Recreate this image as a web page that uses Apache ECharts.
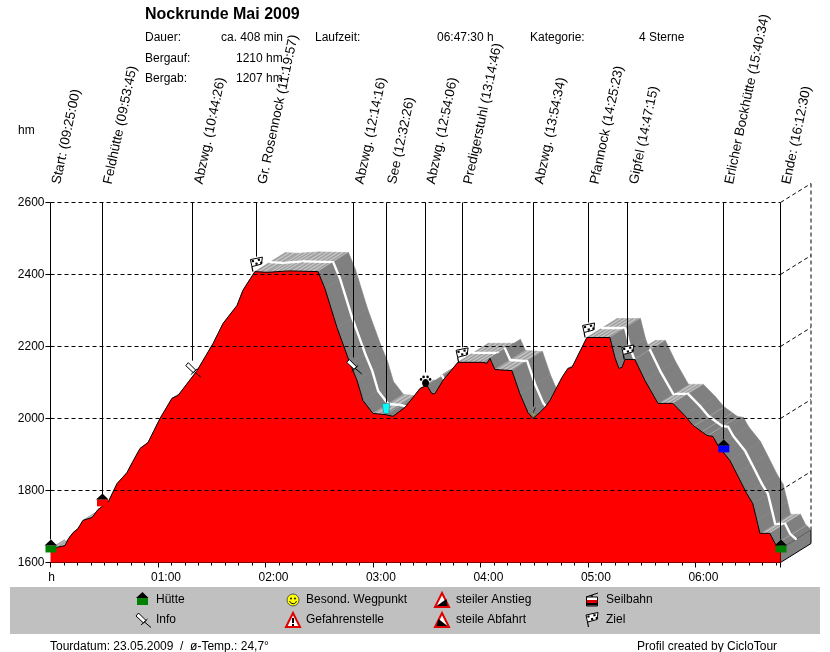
<!DOCTYPE html>
<html><head><meta charset="utf-8">
<style>html,body{margin:0;padding:0;background:#fff}#c{width:830px;height:652px}</style>
<script src="https://cdn.jsdelivr.net/npm/echarts@6/dist/echarts.min.js"></script>
</head><body><div id="c"></div>
<script>
const chartTitle = 'Nockrunde Mai 2009';
const profileMinutes = [0,3.6,8.1,9.8,12.6,15.3,18.1,23.2,26.5,32.1,37.1,42.7,46,50,54.4,61.1,67.8,71.2,81.8,90.7,96.3,104.1,107.4,114.1,121,133,149.3,153.2,159.9,167.2,171.1,174.4,180,186.7,191.2,197.9,202.3,206.2,210.1,212.9,214.6,219.1,227.4,241.4,243.6,245.3,248.1,257.6,262,266.5,269.3,273.2,276,278.8,285.5,288.8,291.1,299.4,312.3,315.1,317.3,319,320.7,326.2,331.8,339.1,347.4,354.1,358.6,366.4,369.8,372.6,379.3,383,388.6,392,394.3,396,401.6,404.4,407.5];
const profileElev = [1639,1642,1647,1664,1683,1694,1717,1725,1747,1767,1819,1850,1881,1917,1933,2000,2056,2064,2133,2208,2264,2314,2356,2408,2406,2410,2408,2361,2253,2153,2106,2050,2014,2011,2006,2031,2058,2083,2092,2069,2069,2106,2156,2156,2153,2167,2136,2133,2069,2017,2000,2017,2031,2050,2114,2139,2142,2225,2225,2169,2139,2142,2164,2164,2106,2042,2042,2008,1981,1953,1950,1925,1883,1847,1792,1764,1717,1681,1681,1653,1639];
const wpMinutes = [0,28.75,79.43,114.95,169.27,187.43,209.1,229.77,269.57,300.38,322.25,375.57,407.5];
const wpElev = [1639,1767,2119,2408,2128,2011,2092,2156,2000,2225,2164,1917,1639];
const wpNames = ['Start: (09:25:00)','Feldhütte (09:53:45)','Abzwg. (10:44:26)','Gr. Rosennock (11:19:57)','Abzwg. (12:14:16)','See (12:32:26)','Abzwg. (12:54:06)','Predigerstuhl (13:14:46)','Abzwg. (13:54:34)','Pfannock (14:25:23)','Gipfel (14:47:15)','Erlicher Bockhütte (15:40:34)','Ende: (16:12:30)'];
const wpIcons = ['hutG','hutR','pin','flag','pin','cup','paw','flag','star','flag','flag','hutB','hutG'];
const gridLevels = [2600,2400,2200,2000,1800];

const FONT = '"Liberation Sans", Arial, sans-serif';
const DX = 30.5, DY = -19;
const leaderGap = {hutG:9,hutR:7,hutB:9,flag:15,pin:15,cup:12,paw:13,star:12};

function poly(points, fill, stroke, lw){
  return {type:'polygon',shape:{points},style:{fill,stroke:stroke||null,lineWidth:lw||0}};
}
function line(x1,y1,x2,y2,stroke,lw,dash){
  return {type:'line',shape:{x1,y1,x2,y2},style:{stroke,lineWidth:lw||1,lineDash:dash||null,fill:null}};
}
function circ(cx,cy,r,fill,stroke,lw){
  return {type:'circle',shape:{cx,cy,r},style:{fill,stroke:stroke||null,lineWidth:lw||0}};
}
function rect(x,y,width,height,fill,stroke,lw){
  return {type:'rect',shape:{x,y,width,height},style:{fill,stroke:stroke||null,lineWidth:lw||0}};
}
function hut(c){
  return [rect(-5,-3,11,7,c), poly([[-6,-3],[0.5,-9],[6.5,-3]],'#000')];
}
function icon(kind){
  if(kind==='hutG') return hut('#008000');
  if(kind==='hutR') return hut('#ff0000');
  if(kind==='hutB') return hut('#0000ff');
  if(kind==='flag'){
    const a=[-6,-12],b=[6,-14.5],c=[5,-7.5],d=[-4.5,-5];
    const pt=(u,v)=>[a[0]+(b[0]-a[0])*u+(d[0]-a[0])*v, a[1]+(b[1]-a[1])*u+(d[1]-a[1])*v];
    const kids=[line(-4.5,-5,-3.5,0,'#000',1.2), poly([a,b,c,d],'#fff','#000',1)];
    [[.08,.12],[.58,.12],[.33,.58],[.72,.58]].forEach(q=>{
      kids.push(poly([pt(q[0],q[1]),pt(q[0]+.18,q[1]),pt(q[0]+.18,q[1]+.3),pt(q[0],q[1]+.3)],'#000'));
    });
    return kids;
  }
  if(kind==='pin') return [
    poly([[-7,-10],[-4.5,-13],[3,-5.5],[0.5,-3]],'#fff','#000',1),
    line(-2,-1,4.5,-7,'#000',1), line(1.5,-4,8,1.5,'#000',1)];
  if(kind==='cup') return [poly([[-4,-11],[3.5,-11],[2.5,-1],[-2.5,-1]],'#00ffff','#555',.5)];
  if(kind==='paw') return [
    {type:'ellipse',shape:{cx:0.5,cy:-2.5,rx:3.5,ry:4},style:{fill:'#000'}},
    circ(-4,-6,1.3,'#000'),circ(-1.5,-8.5,1.3,'#000'),circ(2.5,-8.5,1.3,'#000'),circ(5,-6,1.3,'#000')];
  if(kind==='star') return [
    line(2,-11,-1,-4,'#222',1),
    poly([[-3.5,-4],[3,-5],[-1,-2],[0,-6.5]],'#e8e860','#555',.5)];
  if(kind==='smile') return [
    circ(0,0,6,'#ffff00','#555',1),circ(-2,-1.5,.9,'#000'),circ(2,-1.5,.9,'#000'),
    {type:'arc',shape:{cx:0,cy:0,r:3.6,startAngle:.3,endAngle:Math.PI-.3},style:{stroke:'#000',lineWidth:1,fill:null}}];
  if(kind==='danger') return [
    poly([[0,-7],[7,7],[-7,7]],'#fff','#e00000',2), rect(-1,-2,2,5,'#000'), rect(-1,4,2,2,'#000')];
  if(kind==='up') return [
    poly([[0,-7],[7,7],[-7,7]],'#fff','#e00000',2), poly([[-5.5,6],[4.5,-1],[5.5,6]],'#000')];
  if(kind==='down') return [
    poly([[0,-7],[7,7],[-7,7]],'#fff','#e00000',2), poly([[5.5,6],[-3.5,-1],[-5.5,6]],'#000')];
  if(kind==='gondola') return [
    line(-6,-3,6,-7,'#000',1), line(0,-5,0,-3,'#000',1.5),
    rect(-5.5,-3,11,9,'#fff','#000',1), rect(-5,0,10,3,'#e00000'), rect(-5,3,10,2.5,'#000')];
  return [];
}

const segments = [];
for(let i=0;i<profileMinutes.length-1;i++){
  segments.push([profileMinutes[i],profileElev[i],profileMinutes[i+1],profileElev[i+1]]);
}
// ascending faces are painted first, descending faces in front of them
segments.sort((a,b)=>(b[1]<=b[3]?1:0)-(a[1]<=a[3]?1:0));

function renderRibbon(params, api){
  const p0=api.coord([api.value(0),api.value(1)]), p1=api.coord([api.value(2),api.value(3)]);
  const slope=(p1[1]-p0[1])/Math.max(.01,p1[0]-p0[0]);
  const light=slope<.15, gentle=!light&&slope<.95;
  const base=light?'#b2b2b2':'#808080';
  const kids=[poly([p0,p1,[p1[0]+DX,p1[1]+DY],[p0[0]+DX,p0[1]+DY]],base,base,.6)];
  if(light||gentle){
    const step=light?2.5:8; let k=0;
    for(let x=p0[0]+1;x<p1[0];x+=step,k++){
      const t=(x-p0[0])/(p1[0]-p0[0]), y=p0[1]+(p1[1]-p0[1])*t;
      const col=light?(k%2?'#c8c8c8':'#9a9a9a'):'#b4b4b4';
      kids.push(line(x,y,x+DX,y+DY,col,light?1:.6));
    }
  }
  const w=line(p0[0]+DX/2,p0[1]+DY/2,p1[0]+DX/2,p1[1]+DY/2,'#fff',2.4);
  w.style.lineCap='round';
  kids.push(w);
  return {type:'group',children:kids};
}
function renderGrid(params, api){
  const p=api.coord([0,api.value(0)]), q=api.coord([407.5,api.value(0)]);
  return {type:'group',children:[
    line(p[0],p[1],q[0],q[1],'#000',1,[4,3]),
    line(q[0],q[1],q[0]+DX,q[1]+DY,'#000',1,[4,3])]};
}
function renderBack(params, api){
  const a=api.coord([407.5,2600]), b=api.coord([407.5,1600]);
  const e=api.coord([407.5,profileElev[profileElev.length-1]]);
  return {type:'group',children:[
    line(a[0]+DX,a[1]+DY,a[0]+DX,e[1]+DY,'#000',1,[4,3]),
    poly([e,[e[0]+DX,e[1]+DY],[b[0]+DX,b[1]+DY],b],'#808080','#000',1)]};
}
function renderWaypoint(params, api){
  const t=api.value(0), e=api.value(1), i=params.dataIndex, kind=wpIcons[i];
  const p=api.coord([t,e]), top=api.coord([t,2600]);
  const x=Math.floor(p[0])+.5;
  return {type:'group',children:[
    line(x,top[1],x,p[1]-leaderGap[kind],'#000',1),
    {type:'group',x:p[0],y:p[1],children:icon(kind)},
    {type:'text',x:p[0]+6,y:184,rotation:78*Math.PI/180,originX:0,originY:0,
     style:{text:wpNames[i],font:'13.4px '+FONT,fill:'#000',align:'left',verticalAlign:'middle'}}
  ]};
}
function txt(text,x,y){
  return {type:'text',x,y,z:20,style:{text,font:'12px '+FONT,fill:'#000',verticalAlign:'middle'}};
}
function legendIcon(kind,x,y){
  return {type:'group',x,y,children:icon(kind).map(c=>Object.assign(c,{z:21}))};
}
const statTexts = [
  ['Dauer:',145,38],['ca. 408 min',221,38],['Laufzeit:',315,38],['06:47:30 h',437,38],['Kategorie:',530,38],['4 Sterne',639,38],
  ['Bergauf:',145,59],['1210 hm',236,59],['Bergab:',145,79],['1207 hm',236,79],
  ['hm',18,131],['Tourdatum: 23.05.2009  /  ø-Temp.: 24,7°',50,647],['Profil created by CicloTour',637,647]
];
const legendRows = [
  ['hutG','Hütte',142,156,601,600],['pin','Info',143,156,626,620],
  ['smile','Besond. Wegpunkt',293,306,600,600],['danger','Gefahrenstelle',293,306,620,620],
  ['up','steiler Anstieg',442,456,600,600],['down','steile Abfahrt',442,456,620,620],
  ['gondola','Seilbahn',592,606,600,600],['flag','Ziel',592,606,627,620]
];
const graphics = [{type:'rect',shape:{x:10,y:587,width:810,height:47},style:{fill:'#c0c0c0'},z:19}];
statTexts.forEach(s=>graphics.push(txt(s[0],s[1],s[2])));
legendRows.forEach(r=>{
  graphics.push(legendIcon(r[0],r[2],r[4]));
  graphics.push(txt(r[1],r[3],r[5]));
});

const chart = echarts.init(document.getElementById('c'),null,{renderer:'canvas'});
chart.setOption({
  animation:false,
  backgroundColor:'#fff',
  title:{text:chartTitle,left:145,top:7,padding:0,textStyle:{fontFamily:FONT,fontSize:16,fontWeight:'bold',color:'#000'}},
  grid:{left:50.5,top:202.5,width:730,height:360,containLabel:false},
  xAxis:{type:'value',min:0,max:407.5,interval:60,
    axisLine:{show:true,onZero:false,lineStyle:{color:'#000',width:1}},
    axisTick:{show:true,length:5,lineStyle:{color:'#000'}},
    minorTick:{show:true,splitNumber:8,length:3,lineStyle:{color:'#000'}},
    splitLine:{show:false},minorSplitLine:{show:false},
    axisLabel:{showMaxLabel:false,margin:9,color:'#000',fontFamily:FONT,fontSize:12,
      formatter:v=>{
        if(v===0) return '{h|h}';
        const h=Math.round(v/60);
        return '{t|'+(h<10?'0':'')+h+':00}';
      },
      rich:{t:{padding:[0,0,0,16],fontFamily:FONT,fontSize:12,color:'#000'},h:{padding:[0,0,0,2],fontFamily:FONT,fontSize:12,color:'#000'}}}
  },
  yAxis:{type:'value',min:1600,max:2600,interval:200,
    axisLine:{show:false},axisTick:{show:true,length:5,lineStyle:{color:'#000'}},
    splitLine:{show:false},
    axisLabel:{margin:6,color:'#000',fontFamily:FONT,fontSize:12,formatter:v=>String(v)}
  },
  graphic:graphics,
  series:[
    {type:'custom',name:'back',z:1,silent:true,renderItem:renderBack,data:[[0]],clip:false},
    {type:'custom',name:'surface',z:2,silent:true,renderItem:renderRibbon,data:segments,clip:false,
     encode:{x:[0,2],y:[1,3]}},
    {type:'line',name:'Profil',z:3,silent:true,symbol:'none',smooth:false,
     data:profileMinutes.map((m,i)=>[m,profileElev[i]]),
     lineStyle:{color:'#000',width:1},areaStyle:{color:'#ff0000',opacity:1,origin:'start'}},
    {type:'custom',name:'grid',z:4,silent:true,renderItem:renderGrid,data:gridLevels.map(v=>[v]),clip:false,encode:{y:0}},
    {type:'custom',name:'waypoints',z:5,silent:true,renderItem:renderWaypoint,
     data:wpMinutes.map((m,i)=>[m,wpElev[i]]),clip:false,encode:{x:0,y:1}}
  ]
});
</script></body></html>
